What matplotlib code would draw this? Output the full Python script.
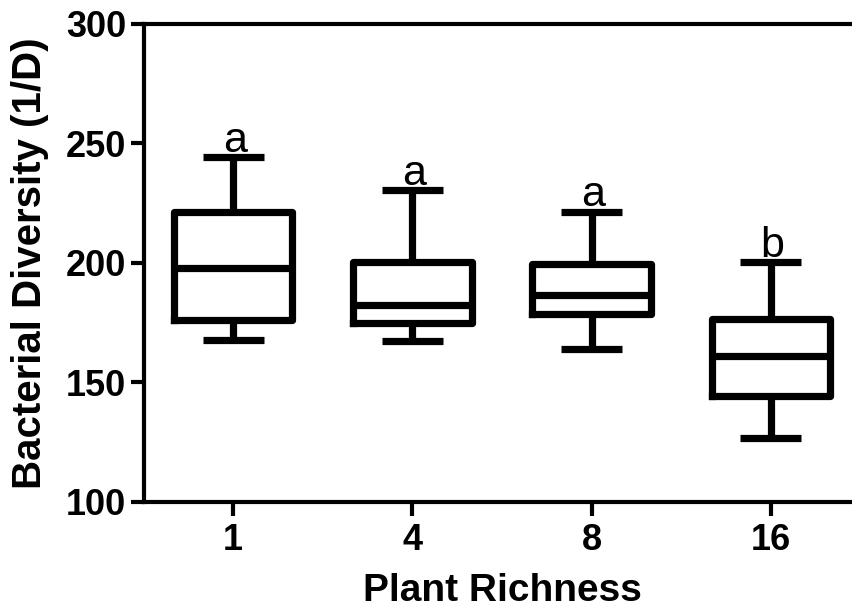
import matplotlib
matplotlib.use("Agg")
import matplotlib.pyplot as plt

categories = ["1", "4", "8", "16"]
whisker_low = [167.7, 167.3, 163.9, 126.6]
q1 = [176.0, 174.8, 178.6, 144.2]
median = [197.8, 182.3, 186.5, 161.0]
q3 = [221.3, 200.3, 199.5, 176.5]
whisker_high = [244.3, 230.5, 221.3, 200.3]
letters = ["a", "a", "a", "b"]

plt.rcParams['font.family'] = ['Liberation Sans', 'DejaVu Sans']

fig = plt.figure(figsize=(8.52, 6.11), dpi=100)
ax = fig.add_axes([143.5 / 852, 1 - 501.7 / 611, (860.5 - 143.5) / 852, (501.7 - 24) / 611])

stats = []
for i, c in enumerate(categories):
    stats.append(dict(label=c, whislo=whisker_low[i], q1=q1[i], med=median[i],
                      q3=q3[i], whishi=whisker_high[i], fliers=[]))

positions = list(range(1, len(categories) + 1))
lw = 5.2
ax.bxp(stats, positions=positions, widths=0.66, capwidths=0.34, showfliers=False,
       boxprops=dict(color='black', linewidth=lw, solid_joinstyle='round'),
       whiskerprops=dict(color='black', linewidth=lw, solid_capstyle='butt'),
       capprops=dict(color='black', linewidth=lw, solid_capstyle='butt'),
       medianprops=dict(color='black', linewidth=lw, solid_capstyle='butt'))

for p, hi, t in zip(positions, whisker_high, letters):
    ax.text(p + 0.01, hi + 2.3, t, ha='center', va='baseline', fontsize=31, color='black')

ax.set_xlim(0.5, 4.5)
ax.set_ylim(100, 300)
ax.set_yticks([100, 150, 200, 250, 300])
ax.set_xticks(positions)
ax.set_xticklabels(categories)

for s in ['left', 'bottom', 'top']:
    ax.spines[s].set_linewidth(3)
ax.spines['right'].set_visible(False)

ax.tick_params(axis='both', direction='out', width=3, labelsize=26)
ax.tick_params(axis='x', length=10, pad=5, top=False)
ax.tick_params(axis='y', length=9.5, pad=3, right=False)
for lab in ax.get_xticklabels() + ax.get_yticklabels():
    lab.set_fontweight('bold')

ax.set_ylabel("Bacterial Diversity (1/D)", fontsize=29, fontweight='bold', labelpad=12)
ax.set_xlabel("Plant Richness", fontsize=28, fontweight='bold', labelpad=11)

fig.savefig("out.png", dpi=100)
